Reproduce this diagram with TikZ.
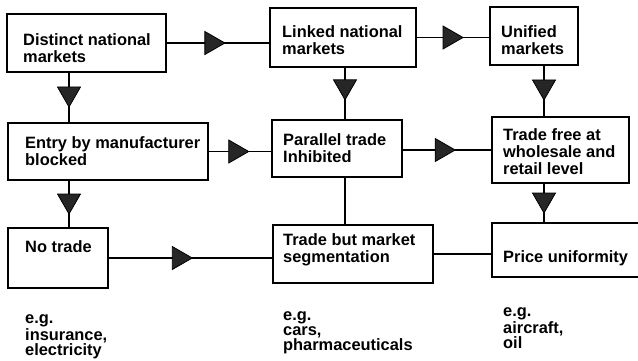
\documentclass[tikz,border=0pt]{standalone}
\usepackage{fontspec}
\setmainfont{Liberation Sans}
\usetikzlibrary{decorations.markings}
\tikzset{
  boxnode/.style={draw, line width=2pt, anchor=north west, outer sep=0pt, inner sep=0pt},
  txt/.style={anchor=north west, inner sep=0pt, align=left, yshift=11.9pt,
    font=\fontsize{16.4}{17}\selectfont\bfseries},
  egtxt/.style={anchor=north west, inner sep=0pt, align=left, yshift=10.5pt,
    font=\fontsize{16.4}{15}\selectfont\bfseries},
  flow/.style={line width=1.7pt, postaction={decorate},
    decoration={markings, mark=at position #1 with {
      \filldraw[fill=black!85, draw=black, line width=0.8pt, line join=miter]
        (10,0) -- (-10,11.5) -- (-10,-11.5) -- cycle;}}},
  flow/.default=0.5,
  bareline/.style={line width=2pt}
}
\begin{document}
\begin{tikzpicture}[x=1pt,y=-1pt]
\useasboundingbox (0,0) rectangle (638,360);
\clip (0,0) rectangle (638,360);
% boxes
\node[boxnode, minimum width=159pt, minimum height=58pt] (b1) at (7,14) {};
\node[boxnode, minimum width=146pt, minimum height=59pt] (b2) at (270,8) {};
\node[boxnode, minimum width=88pt,  minimum height=58pt] (b3) at (490,7) {};
\node[boxnode, minimum width=200pt, minimum height=57pt] (b4) at (8,123) {};
\node[boxnode, minimum width=130pt, minimum height=57pt] (b5) at (272,120) {};
\node[boxnode, minimum width=137pt, minimum height=66pt] (b6) at (492,117) {};
\node[boxnode, minimum width=100pt, minimum height=60pt] (b7) at (8,228) {};
\node[boxnode, minimum width=160pt, minimum height=58pt] (b8) at (273,225) {};
\node[boxnode, minimum width=155pt, minimum height=54pt] (b9) at (492,223) {};
% texts
\node[txt] (t1) at (23,45) {\strut Distinct national\\markets};
\node[txt] (t2) at (282,37) {\strut Linked national\\markets};
\node[txt] (t3) at (501,37) {\strut Unified\\markets};
\node[txt] (t4) at (25,148) {\strut Entry by manufacturer\\blocked};
\node[txt] (t5) at (283,145) {\strut Parallel trade\\Inhibited};
\node[txt] (t6) at (503,140) {\strut Trade free at\\wholesale and\\retail level};
\node[txt] (t7) at (25,252) {\strut No trade};
\node[txt] (t8) at (283,245) {\strut Trade but market\\segmentation};
\node[txt] (t9) at (503,262) {\strut Price uniformity};
\node[egtxt] (e1) at (25,323) {\strut e.g.\\insurance,\\electricity};
\node[egtxt] (e2) at (283,320) {\strut e.g.\\cars,\\pharmaceuticals};
\node[egtxt] (e3) at (503,316) {\strut e.g.\\aircraft,\\oil};
% x positions of vertical connectors
\coordinate (xa) at (69,0);
\coordinate (xb) at (345,0);
\coordinate (xc) at (544,0);
% horizontal connectors
\draw[flow=0.47] (b1.east) -- (b1.east -| b2.west);
\draw[flow=0.5]  (b2.east) -- (b2.east -| b3.west);
\draw[flow=0.48] (b4.east) -- (b4.east -| b5.west);
\draw[flow=0.48] (b5.east |- b6.west) -- (b6.west);
\draw[flow=0.45] (b7.east) -- (b7.east -| b8.west);
\draw[bareline] (b8.east) -- (b8.east -| b9.west);
% vertical connectors
\draw[flow=0.49] (b1.south -| xa) -- (b4.north -| xa);
\draw[flow=0.5]  (b4.south -| xa) -- (b7.north -| xa);
\draw[flow=0.43] (b2.south -| xb) -- (b5.north -| xb);
\draw[bareline]  (b5.south -| xb) -- (b8.north -| xb);
\draw[flow=0.48] (b3.south -| xc) -- (b6.north -| xc);
\draw[flow=0.5]  (b6.south -| xc) -- (b9.north -| xc);
\end{tikzpicture}
\end{document}
